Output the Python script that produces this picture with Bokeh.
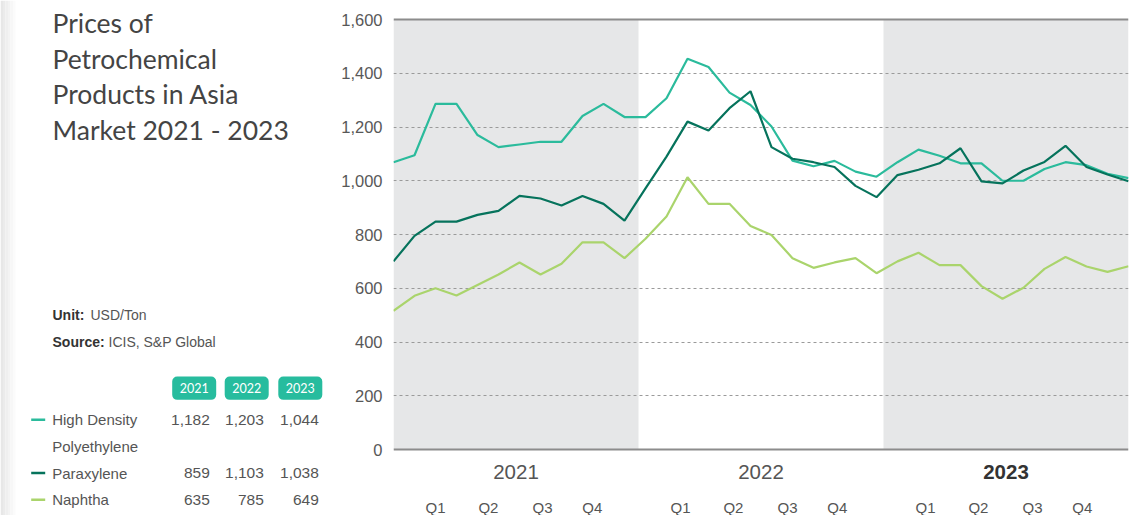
from bokeh.plotting import figure
from bokeh.layouts import row
from bokeh.models import Range1d, FixedTicker, NumeralTickFormatter, Span
from bokeh.core.properties import value
from bokeh.embed import file_html
from bokeh.resources import INLINE

# ---------------- data ----------------
years = ["2021", "2022", "2023"]
quarters = ["Q1", "Q2", "Q3", "Q4"]
months = list(range(36))

hdpe = [1069, 1095, 1286, 1286, 1170, 1125, 1135, 1145, 1145, 1241, 1286, 1237,
        1237, 1307, 1454, 1423, 1328, 1282, 1202, 1075, 1054, 1074, 1034, 1015,
        1069, 1116, 1093, 1065, 1065, 1000, 1000, 1044, 1069, 1058, 1026, 1010]
paraxylene = [700, 795, 848, 848, 873, 888, 944, 934, 908, 943, 914, 852,
              972, 1090, 1220, 1187, 1270, 1333, 1125, 1082, 1069, 1051, 981, 939,
              1021, 1041, 1065, 1121, 998, 990, 1038, 1070, 1130, 1051, 1023, 998]
naphtha = [516, 572, 600, 573, 612, 651, 696, 651, 691, 771, 771, 712,
           784, 867, 1013, 914, 914, 832, 798, 712, 676, 696, 712, 656,
           700, 732, 686, 686, 608, 561, 602, 672, 716, 681, 661, 682]

avg_hdpe = ["1,182", "1,203", "1,044"]
avg_paraxylene = ["859", "1,103", "1,038"]
avg_naphtha = ["635", "785", "649"]

y_ticks = [0, 200, 400, 600, 800, 1000, 1200, 1400, 1600]
grid_ticks = [200, 400, 600, 800, 1000, 1200, 1400]

title_lines = ["Prices of", "Petrochemical", "Products in Asia", "Market 2021 - 2023"]

# ---------------- styles ----------------
C_HDPE = "#2bbb9c"
C_PX = "#06735c"
C_NAP = "#aad46c"
C_BAND = "#e6e7e8"
C_BADGE = "#27bc9e"
FONT = "Liberation Sans"

# ---------------- right chart ----------------
H = 515
LW = 328
n = len(months)
xmax = n - 1
top_px = 19            # pixel row of the 1,600 line
zero_px = 449          # pixel row of the 0 line
scale = (zero_px - top_px) / 1600.0
ymax = 1600 + top_px / scale
ymin = -(H - zero_px) / scale

p = figure(width=1134 - LW, height=H, x_range=Range1d(0, xmax), y_range=Range1d(ymin, ymax),
           min_border_left=65, min_border_right=6, min_border_top=0,
           min_border_bottom=0, toolbar_location=None, output_backend="svg",
           x_axis_location=None)
p.outline_line_color = None
p.background_fill_color = "white"
p.border_fill_color = "white"

band = xmax / 3.0
p.quad(left=[0, 2 * band], right=[band, 3 * band], bottom=0, top=1600,
       fill_color=C_BAND, line_color=None, level="image")

p.xgrid.visible = False
p.ygrid.ticker = FixedTicker(ticks=grid_ticks)
p.ygrid.grid_line_color = "#9a9a9a"
p.ygrid.grid_line_dash = "3 3"
p.ygrid.grid_line_width = 1

ax = p.yaxis[0]
ax.ticker = FixedTicker(ticks=y_ticks)
ax.formatter = NumeralTickFormatter(format="0,0")
ax.axis_line_color = None
ax.major_tick_line_color = None
ax.minor_tick_line_color = None
ax.major_tick_out = 0
ax.major_tick_in = 0
ax.minor_tick_out = 0
ax.major_label_standoff = 11
ax.major_label_text_font = FONT
ax.major_label_text_font_size = "16.5px"
ax.major_label_text_color = "#585858"

for loc in (0, 1600):
    p.add_layout(Span(location=loc, dimension="width", line_color="#8c8c8c", line_width=2))

p.line(months, naphtha, line_color=C_NAP, line_width=2.2)
p.line(months, hdpe, line_color=C_HDPE, line_width=2.2)
p.line(months, paraxylene, line_color=C_PX, line_width=2.2)

# year and quarter labels below the axis (pixel offsets below the zero line)
year_y = -(471.7 - zero_px) / scale
q_y = -(507.3 - zero_px) / scale
year_x = [band * (k + 0.5) for k in range(3)]
p.text(x=year_x[:2], y=[year_y] * 2, text=years[:2], text_align="center",
       text_baseline="middle", text_font=value(FONT), text_font_size="20.5px",
       text_color="#555555")
p.text(x=year_x[2:], y=[year_y], text=years[2:], text_align="center",
       text_baseline="middle", text_font=value(FONT), text_font_size="20.5px",
       text_font_style="bold", text_color="#333333")
q_offsets = [2.0, 4.52, 7.1, 9.47]
qx, qt = [], []
for k in range(3):
    for off, q in zip(q_offsets, quarters):
        qx.append(band * k + off)
        qt.append(q)
p.text(x=qx, y=[q_y] * len(qx), text=qt, text_align="center",
       text_baseline="middle", text_font=value(FONT), text_font_size="15px",
       text_color="#555555")

# ---------------- left panel ----------------
L = figure(width=LW, height=H, x_range=Range1d(0, LW), y_range=Range1d(H, 0),
           toolbar_location=None, output_backend="svg", min_border=0,
           x_axis_location=None, y_axis_location=None)
L.grid.visible = False
L.outline_line_color = None

# soft shadow strip at the left edge
shade = ["#e7e7e7", "#ebebeb", "#efefef", "#f3f3f3", "#f7f7f7", "#fbfbfb"]
L.quad(left=[i * 2.5 for i in range(6)], right=[(i + 1) * 2.5 for i in range(6)],
       bottom=H, top=0, fill_color=shade, line_color=None)

title_mid = [22.0, 58.0, 93.8, 129.7]
L.text(x=[52] * 4, y=title_mid, text=title_lines, text_font=value("Lato"),
       text_font_size="26.5px", text_color="#444444", text_baseline="middle")

L.text(x=[52, 52], y=[314.3, 341], text=["Unit:", "Source:"], text_font=value(FONT),
       text_font_size="14px", text_font_style="bold", text_color="#333333",
       text_baseline="middle")
L.text(x=[90.0, 108.0], y=[314.3, 341], text=["USD/Ton", "ICIS, S&P Global"],
       text_font=value(FONT), text_font_size="14px", text_color="#555555",
       text_baseline="middle")

# year badges (rounded via thick round-joined outline)
bx = [193.7, 246.2, 299.8]
r = 5
L.rect(x=bx, y=[387.7] * 3, width=44 - 2 * r, height=23.3 - 2 * r,
       fill_color=C_BADGE, line_color=C_BADGE, line_width=2 * r, line_join="round")
L.text(x=bx, y=[387.7] * 3, text=years, text_align="center", text_baseline="middle",
       text_font=value("Lato"), text_font_size="12.5px", text_color="white")

# table rows
row_mid = [419.2, 472.5, 499.2]
names = ["High Density", "Paraxylene", "Naphtha"]
colors = [C_HDPE, C_PX, C_NAP]
L.segment(x0=[30.7] * 3, x1=[44.7] * 3, y0=row_mid, y1=row_mid,
          line_color=colors, line_width=2.6)
L.text(x=[51.7] * 4, y=row_mid + [445.8], text=names + ["Polyethylene"],
       text_font=value(FONT), text_font_size="15px", text_color="#555555",
       text_baseline="middle")
col_x = [209.3, 263.3, 318.3]
for vals, m in zip([avg_hdpe, avg_paraxylene, avg_naphtha], row_mid):
    L.text(x=col_x, y=[m] * 3, text=vals, text_align="right",
           text_font=value(FONT), text_font_size="15.5px", text_color="#555555",
           text_baseline="middle")

layout = row(L, p)
open("out.html", "w").write(file_html(layout, INLINE))
